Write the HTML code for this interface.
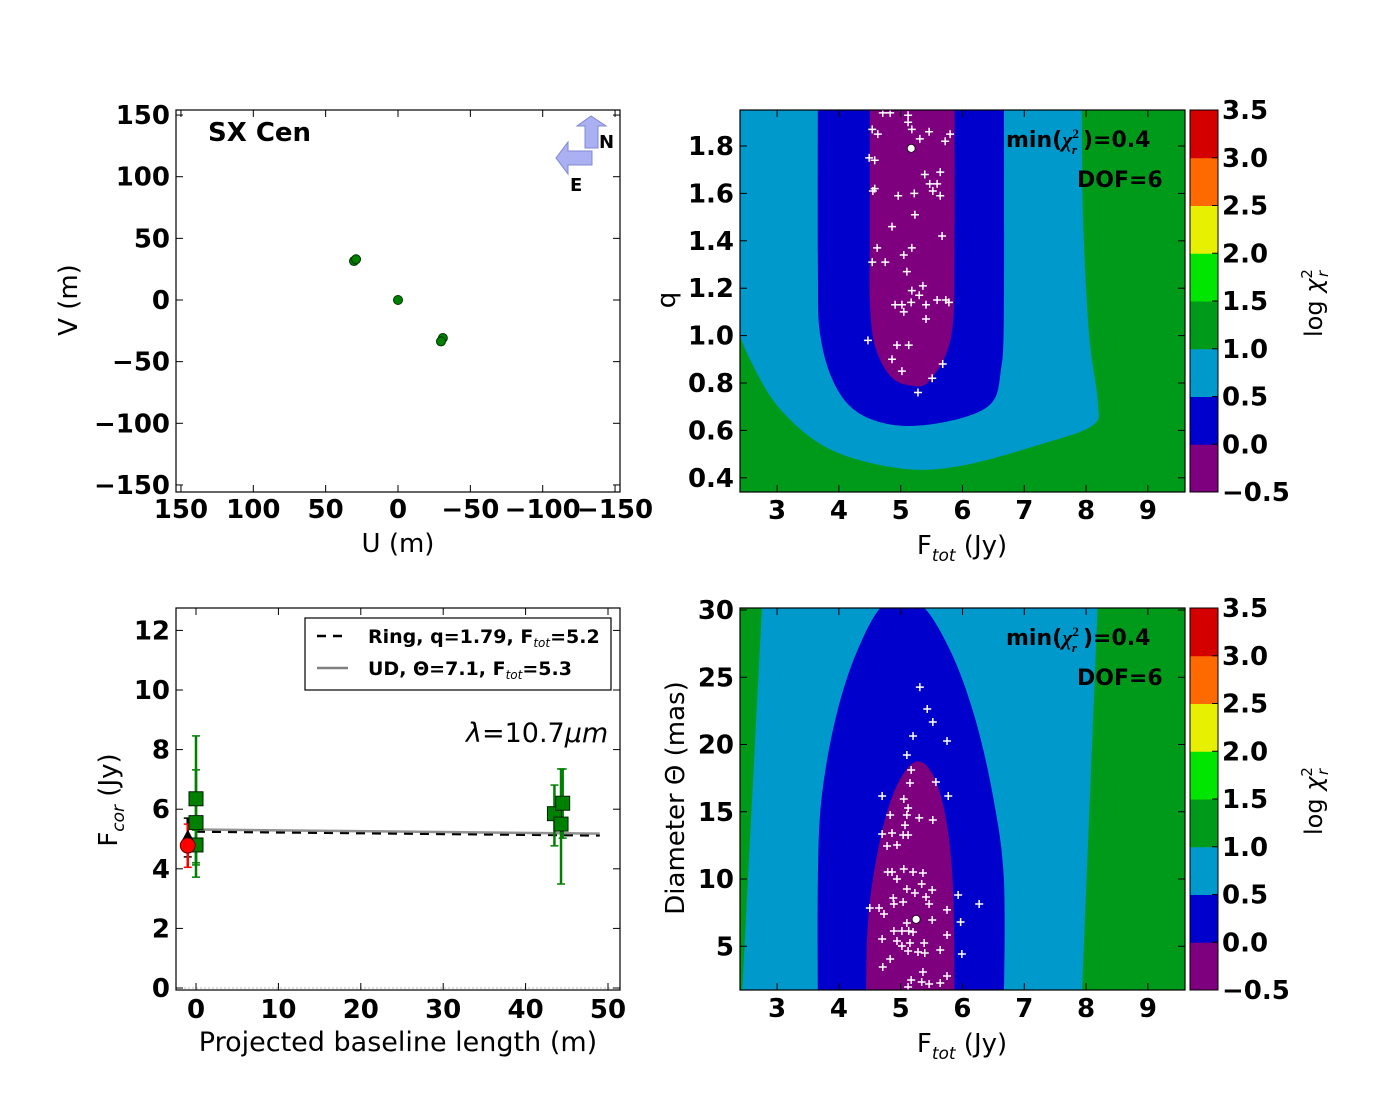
<!DOCTYPE html>
<html><head><meta charset="utf-8"><style>
body{margin:0;background:#fff}
svg text{font-family:"DejaVu Sans","Liberation Sans",sans-serif}
</style></head><body>
<svg id="s" width="1400" height="1100" xmlns="http://www.w3.org/2000/svg">
<rect width="1400" height="1100" fill="#fff"/>
</svg>
<script>
// ---- data ----
const uvU=[0,30.4,29,-31,-29.7];
const uvV=[0,31.6,33,-30.8,-33.6];
const ticksUV=[150,100,50,0,-50,-100,-150];

const qF=[4.71,4.83,5.12,5.12,4.54,4.63,5.18,5.46,5.80,5.72,5.31,4.49,4.58,5.39,5.64,5.47,5.59,5.52,5.64,4.55,4.58,4.96,5.22,5.23,4.86,5.67,4.62,5.18,5.05,4.54,4.75,5.10,5.36,5.18,5.30,4.91,5.02,5.17,5.41,5.59,5.73,5.78,5.05,5.41,4.47,4.94,5.13,4.86,5.02,5.68,5.51,5.28];
const qQ=[1.94,1.94,1.93,1.90,1.87,1.85,1.87,1.86,1.85,1.82,1.83,1.75,1.74,1.68,1.69,1.64,1.64,1.61,1.59,1.61,1.62,1.59,1.60,1.51,1.46,1.42,1.37,1.37,1.34,1.31,1.31,1.27,1.21,1.19,1.17,1.13,1.13,1.14,1.13,1.15,1.15,1.14,1.10,1.07,0.98,0.96,0.96,0.90,0.85,0.88,0.82,0.76];
const bestRing=[5.17,1.79];

const dF=[5.31,5.43,5.52,5.20,5.75,5.10,5.17,5.15,5.57,4.70,5.77,5.05,5.12,4.83,5.10,5.30,5.52,5.07,4.70,4.86,5.04,5.12,4.78,4.94,4.79,4.86,5.05,5.20,5.36,4.94,5.34,5.10,5.23,5.51,5.41,5.93,6.27,4.88,5.04,4.89,5.46,4.50,4.65,4.73,5.75,5.10,5.51,5.97,4.89,5.02,5.13,5.20,5.75,4.70,4.94,5.02,5.15,5.38,5.64,5.12,5.28,5.39,5.99,4.83,4.71,5.36,5.75,5.17,5.34,5.46,5.64,5.12];
const dD=[24.27,22.64,21.67,20.63,20.26,19.22,18.10,17.14,17.21,16.17,16.17,15.95,15.28,14.76,14.76,14.54,14.39,14.01,13.35,13.42,13.27,13.27,12.45,12.53,10.52,10.52,10.74,10.52,10.45,10.00,9.63,9.26,8.96,9.18,8.66,8.81,8.14,8.59,8.29,8.14,8.14,7.84,7.84,7.40,7.70,6.73,6.95,6.80,6.13,6.13,6.13,6.06,5.84,5.54,5.39,5.02,5.24,5.24,4.72,4.65,4.57,4.50,4.42,4.05,3.46,3.09,2.79,2.49,2.34,2.19,2.27,1.97];
const bestUD=[5.25,7.0];

// contour polygons (data coords)
const trCyanF=[2.30,7.93,7.95,8.05,8.19,8.10,7.25,5.96,4.99,3.86,3.05,2.56,2.30];
const trCyanQ=[2.05,2.05,1.50,1.00,0.72,0.62,0.54,0.45,0.44,0.52,0.69,0.90,1.07];
const trBlueF=[3.66,6.67,6.67,6.62,6.45,5.80,4.99,4.34,3.94,3.70,3.66];
const trBlueQ=[2.05,2.05,1.10,0.85,0.71,0.64,0.62,0.67,0.79,1.00,1.30];
const trPurpF=[4.50,5.87,5.87,5.82,5.47,5.15,4.83,4.58,4.50,4.50];
const trPurpQ=[2.05,2.05,1.40,1.00,0.81,0.79,0.83,0.96,1.15,1.40];
const brCyanF=[2.76,8.19,7.93,2.43];
const brCyanD=[30.6,30.6,1.2,1.2];
const brBlueF=[3.66,3.66,3.72,3.95,4.30,4.75,5.30,5.80,6.20,6.50,6.67,6.67];
const brBlueD=[1.2,10,16,22,27,30.5,30.5,27,22,16,10,1.2];
const brPurpF=[4.44,4.46,4.55,4.75,5.00,5.28,5.55,5.75,5.85,5.87];
const brPurpD=[1.2,6,10,14.5,17.5,18.75,17.5,14,9,1.2];

// flux vs baseline
const gB=[0,0,0,43.5,44.5,44.3];
const gF=[6.35,5.55,4.8,5.85,6.2,5.5];
const gHi=[8.46,7.32,5.3,6.81,7.35,7.35];
const gLo=[4.2,3.72,4.13,4.77,5.03,3.49];
const rB=[-1], rF=[4.78], rHi=[5.5], rLo=[4.05];
const kB=[-1], kF=[5.05], kHi=[5.7], kLo=[4.4];
const lineB=[0,49];
const ringF=[5.25,5.12];
const udF=[5.32,5.18];

const cbColors=["#7f007f","#0000cc","#0099cc","#009a1a","#00e600","#e6f000","#ff6a00","#d40000"];
const cbTicks=["−0.5","0.0","0.5","1.0","1.5","2.0","2.5","3.0","3.5"];

// ---- helpers ----
const S=document.getElementById('s');const NS="http://www.w3.org/2000/svg";
function el(t,a,p){const e=document.createElementNS(NS,t);for(const k in a)e.setAttribute(k,a[k]);(p||S).appendChild(e);return e;}
function txt(x,y,s,a){const e=el('text',Object.assign({x:x,y:y},a||{}));e.innerHTML=s;return e;}
const tlX=u=>398-u*1.447, tlY=v=>300-v*1.233;
const fX=f=>740+(f-2.4)*61.8, qY=q=>146+(1.8-q)*237, dY=d=>610+(30-d)*13.45;
const bX=b=>196+b*8.24, bY=f=>988-f*29.8;
function clip(id,x,y,w,h){const c=el('clipPath',{id:id});el('rect',{x:x,y:y,width:w,height:h},c);}
function smoothPath(P,corners){const n=P.length;let d=`M${P[0][0]},${P[0][1]}`;
 for(let i=0;i<n;i++){const i2=(i+1)%n;const p0=P[(i-1+n)%n],p1=P[i],p2=P[i2],p3=P[(i+2)%n];
 let c1=[p1[0]+(p2[0]-p0[0])/6,p1[1]+(p2[1]-p0[1])/6],c2=[p2[0]-(p3[0]-p1[0])/6,p2[1]-(p3[1]-p1[1])/6];
 if(corners.includes(i))c1=p1; if(corners.includes(i2))c2=p2;
 d+=`C${c1[0]},${c1[1]} ${c2[0]},${c2[1]} ${p2[0]},${p2[1]}`;}return d+'Z';}
function poly(xs,ys,fx,fy,fill,name,cp,corners){const P=xs.map((v,i)=>[fx(v),fy(ys[i])]);
const g=el('g',{'clip-path':'url(#'+cp+')'});
const p=el('path',{d:smoothPath(P,corners),fill:fill},g);

return p;}
function frame(x0,y0,x1,y1,name){const r=el('rect',{x:x0,y:y0,width:x1-x0,height:y1-y0,fill:'none',stroke:'#000','stroke-width':1.2});

}
function xt(vals,fx,y0,y1,labs,ly){vals.forEach((v,i)=>{const x=fx(v);el('line',{x1:x,y1:y1,x2:x,y2:y1-7,stroke:'#000'});el('line',{x1:x,y1:y0,x2:x,y2:y0+7,stroke:'#000'});
const t=txt(x,ly,labs[i],{'text-anchor':'middle','font-size':26,'font-weight':'bold'});

});}
function yt(vals,fy,x0,x1,labs,lx){vals.forEach((v,i)=>{const y=fy(v);el('line',{x1:x0,y1:y,x2:x0+7,y2:y,stroke:'#000'});el('line',{x1:x1,y1:y,x2:x1-7,y2:y,stroke:'#000'});
const t=txt(lx,y+9,labs[i],{'text-anchor':'end','font-size':26,'font-weight':'bold'});

});}
const fmtM=v=>v<0?'−'+(-v):''+v;

// ===== Top-left UV plot =====
frame(176,110,620,492,'uv-axes');
xt(ticksUV,tlX,110,492,ticksUV.map(fmtM),518);
yt(ticksUV,tlY,176,620,ticksUV.map(fmtM),170);
uvU.forEach((u,i)=>{const c=el('circle',{cx:tlX(u),cy:tlY(uvV[i]),r:4.5,fill:'#008000',stroke:'#003300','stroke-width':1});

});
txt(208,141,'SX Cen',{'font-size':26,'font-weight':'bold'});
txt(398,552,'U (m)',{'text-anchor':'middle','font-size':26});
txt(77,300,'V (m)',{'text-anchor':'middle','font-size':26,transform:'rotate(-90 77 300)'});
el('polygon',{points:'585,148 585,126 577,126 591,116 606,126 598,126 598,148',fill:'#aab0f2',stroke:'#8088d0'});
el('polygon',{points:'592,151 568,151 568,142 556,158 568,174 568,165 592,165',fill:'#aab0f2',stroke:'#8088d0'});
txt(599,148,'N',{'font-size':18,'font-weight':'bold'});
txt(570,191,'E',{'font-size':18,'font-weight':'bold'});

// ===== contour panels =====
function contourPanel(cp,y0,y1,polys,pts,best,yticks,yfun,ylabs,ylabel,yl,ny){
 clip(cp,740,y0,445,y1-y0);
 const bg=el('rect',{x:740,y:y0,width:445,height:y1-y0,fill:'#009a1a'});
 
 
 polys.forEach(p=>poly(p[0],p[1],fX,yfun,p[2],p[3],cp,p[4]));
 const g=el('g',{'clip-path':'url(#'+cp+')'});
 
 
 pts[0].forEach((f,i)=>{const x=fX(f),y=yfun(pts[1][i]);el('path',{d:`M${x-4},${y}h8M${x},${y-4}v8`,stroke:'#fff','stroke-width':1.5},g);});
 const b=el('circle',{cx:fX(best[0]),cy:yfun(best[1]),r:4,fill:'#fff',stroke:'#000','stroke-width':0.8});
 
 
 frame(740,y0,1185,y1,'contour-axes');
 xt([3,4,5,6,7,8,9],fX,y0,y1,['3','4','5','6','7','8','9'],y1+27);
 yt(yticks,yfun,740,1185,ylabs,734);
 const t1=txt(1006,y0+37,'min(<tspan font-style="italic" font-family="Liberation Serif">χ</tspan><tspan font-size="13" dy="-9" font-family="Liberation Serif">2</tspan><tspan font-size="13" dy="16" dx="-7" font-family="Liberation Serif" font-style="italic">r</tspan><tspan dy="-7" dx="6">)=0.4</tspan>',{'font-size':22,'font-weight':'bold'});
 
 
 txt(1077,y0+77,'DOF=6',{'font-size':22,'font-weight':'bold'});
 txt(962,y1+62,'F<tspan font-size="17" dy="7" font-style="italic">tot</tspan><tspan dy="-7"> (Jy)</tspan>',{'text-anchor':'middle','font-size':26});
 txt(yl,ny,ylabel,{'text-anchor':'middle','font-size':26,transform:`rotate(-90 ${yl} ${ny})`});
 const h=(y1-y0)/8;
 cbColors.forEach((c,i)=>{const r=el('rect',{x:1190,y:y1-(i+1)*h,width:28,height:h+0.5,fill:c});
 
 });
 el('rect',{x:1190,y:y0,width:28,height:y1-y0,fill:'none',stroke:'#000'});
 cbTicks.forEach((l,i)=>{const y=y1-i*h;el('line',{x1:1212,y1:y,x2:1218,y2:y,stroke:'#000'});
 const t=txt(1222,y+9,l,{'font-size':26,'font-weight':'bold'});
 
 });
 const cy=(y0+y1)/2+2;
 txt(1322,cy,'log <tspan font-style="italic">χ</tspan><tspan font-size="15" dy="-10">2</tspan><tspan font-size="15" dy="16" dx="-8" font-style="italic">r</tspan>',{'text-anchor':'middle','font-size':24,'font-family':'Liberation Serif',transform:`rotate(-90 1322 ${cy})`});
}
contourPanel('ctr',110,492,[[trCyanF,trCyanQ,'#0099cc','contour-cyan',[0,1,12]],[trBlueF,trBlueQ,'#0000cc','contour-blue',[0,1]],[trPurpF,trPurpQ,'#7f007f','contour-purple',[0,1]]],[qF,qQ],bestRing,
 [0.4,0.6,0.8,1.0,1.2,1.4,1.6,1.8],qY,['0.4','0.6','0.8','1.0','1.2','1.4','1.6','1.8'],'q',675,300);
contourPanel('cbr',608,990,[[brCyanF,brCyanD,'#0099cc','contour-cyan',[0,1,2,3]],[brBlueF,brBlueD,'#0000cc','contour-blue',[0,11]],[brPurpF,brPurpD,'#7f007f','contour-purple',[0,9]]],[dF,dD],bestUD,
 [5,10,15,20,25,30],dY,['5','10','15','20','25','30'],'Diameter Θ (mas)',684,798);

// ===== Bottom-left flux plot =====
el('line',{x1:176,y1:bY(0),x2:620,y2:bY(0),stroke:'#bbb','stroke-dasharray':'2,2'});
const rl=el('polyline',{points:lineB.map((b,i)=>bX(b)+','+bY(ringF[i])).join(' '),fill:'none',stroke:'#000','stroke-width':2.5,'stroke-dasharray':'9,7'});


const ul=el('polyline',{points:lineB.map((b,i)=>bX(b)+','+bY(udF[i])).join(' '),fill:'none',stroke:'#808080','stroke-width':2.5,opacity:0.85});


function errs(B,F,H,L,col){B.forEach((b,i)=>{const x=bX(b);el('line',{x1:x,y1:bY(H[i]),x2:x,y2:bY(L[i]),stroke:col,'stroke-width':2.5});
[H[i],L[i]].forEach(v=>el('line',{x1:x-4,y1:bY(v),x2:x+4,y2:bY(v),stroke:col,'stroke-width':1.5}));});}
errs(kB,kF,kHi,kLo,'#000');
errs(rB,rF,rHi,rLo,'#ff0000');
errs(gB,gF,gHi,gLo,'#008000');
gB.forEach((b,i)=>{const r=el('rect',{x:bX(b)-7,y:bY(gF[i])-7,width:14,height:14,fill:'#008000',stroke:'#002000'});

});
kB.forEach((b,i)=>{const x=bX(b),y=bY(kF[i]);const p=el('polygon',{points:`${x},${y-8} ${x+7},${y+5} ${x-7},${y+5}`,fill:'#000'});

});
rB.forEach((b,i)=>{const c=el('circle',{cx:bX(b),cy:bY(rF[i]),r:7.5,fill:'#ff0000',stroke:'#600'});

});
frame(176,608,620,990,'flux-axes');
xt([0,10,20,30,40,50],bX,608,990,['0','10','20','30','40','50'],1018);
yt([0,2,4,6,8,10,12],bY,176,620,['0','2','4','6','8','10','12'],170);
const lg=el('g',{});


el('rect',{x:305,y:618,width:306,height:72,fill:'#fff',stroke:'#000','stroke-width':1.2},lg);
el('line',{x1:317,y1:636,x2:348,y2:636,stroke:'#000','stroke-width':2.5,'stroke-dasharray':'9,7'},lg);
el('line',{x1:317,y1:668,x2:348,y2:668,stroke:'#808080','stroke-width':2.5},lg);
txt(368,643,'Ring, q=1.79, F<tspan font-size="12" dy="4" font-style="italic" font-weight="normal">tot</tspan><tspan dy="-4">=5.2</tspan>',{'font-size':19,'font-weight':'bold'});
txt(368,675,'UD, Θ=7.1, F<tspan font-size="12" dy="4" font-style="italic" font-weight="normal">tot</tspan><tspan dy="-4">=5.3</tspan>',{'font-size':19,'font-weight':'bold'});
txt(466,742,'<tspan font-style="italic">λ</tspan>=10.7<tspan font-style="italic">μm</tspan>',{'font-size':27,'font-family':'Liberation Serif'});
txt(398,1051,'Projected baseline length (m)',{'text-anchor':'middle','font-size':27});
txt(117,800,'F<tspan font-size="17" dy="7" font-style="italic">cor</tspan><tspan dy="-7"> (Jy)</tspan>',{'text-anchor':'middle','font-size':26,transform:'rotate(-90 117 800)'});
</script>
</body></html>
